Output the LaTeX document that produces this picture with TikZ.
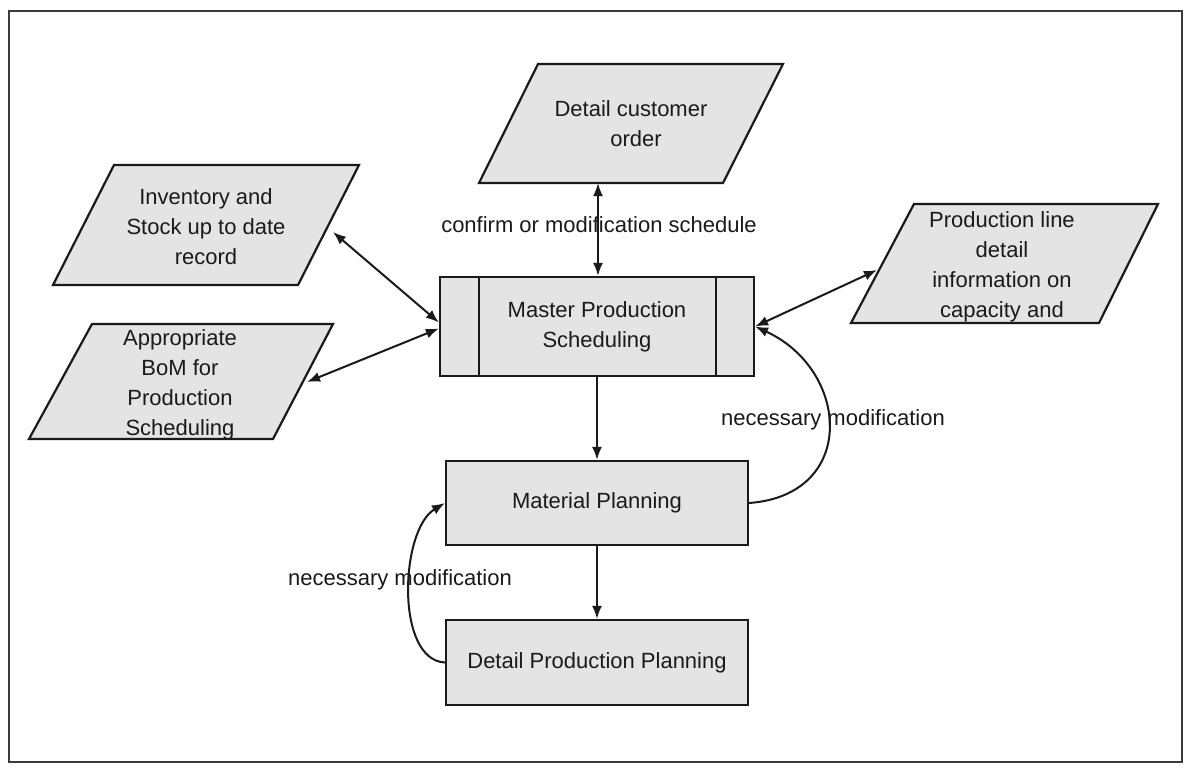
\documentclass[tikz,border=0pt]{standalone}
\usepackage{fontspec}
\setmainfont{Liberation Sans}
\usetikzlibrary{arrows.meta}
\definecolor{boxfill}{HTML}{E4E4E4}
\definecolor{ink}{HTML}{1A1A1A}
\begin{document}
\begin{tikzpicture}[x=1pt,y=-1pt,
  every node/.style={font=\fontsize{22}{30}\selectfont, text=ink},
  procbox/.style={draw=ink, line width=2.2pt, fill=boxfill, inner sep=0pt},
  datashape/.style={draw=ink, line width=2.2pt, fill=boxfill, line join=miter},
  txt/.style={align=center, inner sep=0pt},
  link/.style={draw=ink, line width=2pt, {Latex[length=13pt,width=10pt]}-{Latex[length=13pt,width=10pt]}},
  flow/.style={draw=ink, line width=2pt, -{Latex[length=13pt,width=10pt]}},
  note/.style={inner sep=0pt}
]
\useasboundingbox (0,0) rectangle (1184,769);
\fill[white] (0,0) rectangle (1184,769);
% outer frame
\draw[draw=ink!85, line width=2.2pt] (9,11) rectangle (1182,762);

% input / output data (parallelograms)
\draw[datashape] (538,64) -- (783,64) -- (723,183) -- (479,183) -- cycle;
\node[txt] (dco) at (631,124) {Detail customer\\ \hspace*{10pt}order};

\draw[datashape] (114,165) -- (359,165) -- (298,285) -- (53,285) -- cycle;
\node[txt] (inv) at (206,227) {Inventory and\\Stock up to date\\record};

\draw[datashape] (92,324) -- (333,324) -- (273,439) -- (29,439) -- cycle;
\node[txt] (bom) at (180,385) {Appropriate\\BoM for\\Production\\Scheduling};

\draw[datashape] (914,204) -- (1158,204) -- (1099,323) -- (851,323) -- cycle;
\node[txt] (pld) at (1002,267) {Production line\\detail\\information on\\capacity and};

% connector ends on the slanted edges
\coordinate (dco-b) at (598,183);
\coordinate (inv-r) at (333,232);
\coordinate (bom-r) at (307,382);
\coordinate (pld-l) at (877,270);

% process boxes
\node[procbox, minimum width=314pt, minimum height=99pt] (mps) at (597,326.5) {};
\draw[ink, line width=2.2pt] ([xshift=40pt]mps.north west) -- ([xshift=40pt]mps.south west);
\draw[ink, line width=2.2pt] ([xshift=-39pt]mps.north east) -- ([xshift=-39pt]mps.south east);
\node[txt] (mpst) at (mps.center) {Master Production\\Scheduling};

\node[procbox, minimum width=302pt, minimum height=84pt] (mp) at (597,503) {Material Planning};
\node[procbox, minimum width=302pt, minimum height=85pt] (dpp) at (597,662.5) {Detail Production Planning};

% connectors
\draw[link] (dco-b) -- (dco-b |- mps.north);
\draw[link] (inv-r) -- ([yshift=4pt]mps.west);
\draw[link] (bom-r) -- ([yshift=-2pt]mps.west);
\draw[link] (mps.east) -- (pld-l);
\draw[flow] (mps.south) -- (mp.north);
\draw[flow] (mp.south) -- (dpp.north);
\draw[flow] (mp.east) .. controls (858,495) and (850,370) .. (mps.east);
\draw[flow] (dpp.west) .. controls (395,660) and (400,530) .. (mp.west);

% connector labels
\node[note] (lconf) at (599,225) {confirm or modification schedule};
\node[note] (lmod1) at (833,420) {necessary modification};
\node[note] (lmod2) at (400,580) {necessary modification};
\end{tikzpicture}
\end{document}
